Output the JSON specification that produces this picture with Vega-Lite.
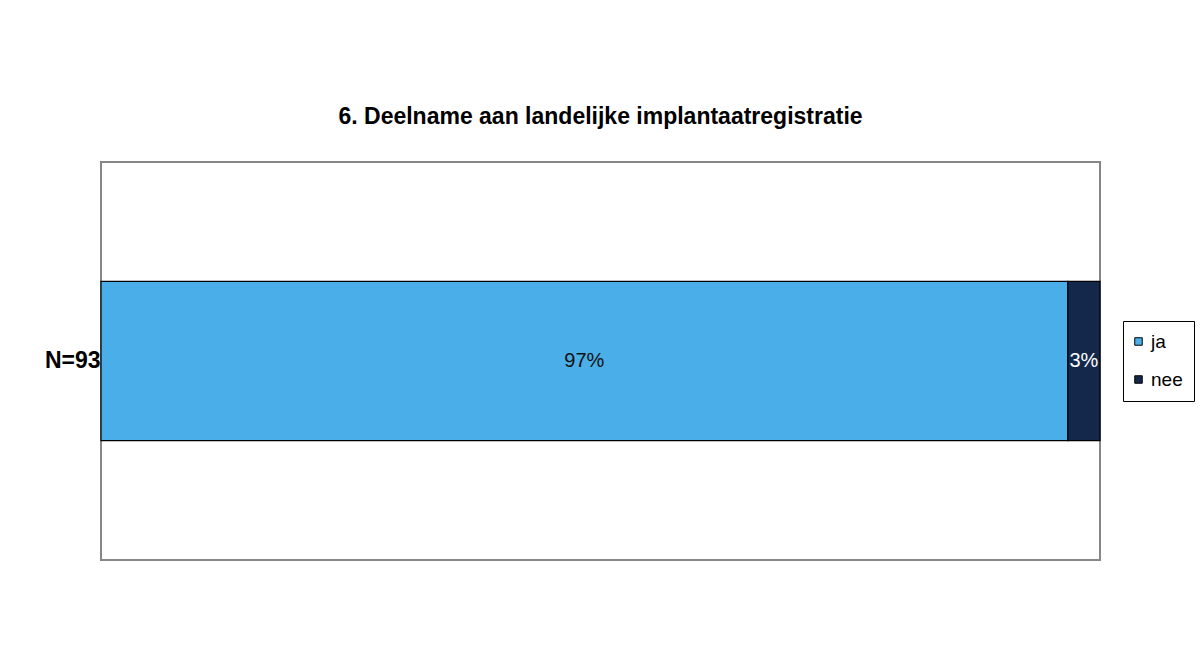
{
  "$schema": "https://vega.github.io/schema/vega-lite/v6.json",
  "autosize": {"type": "none"},
  "padding": {"left": 101, "top": 162, "right": 103, "bottom": 90},
  "width": 999,
  "height": 398,
  "background": "white",
  "title": {
    "text": "6. Deelname aan landelijke implantaatregistratie",
    "font": "Liberation Sans",
    "fontSize": 23,
    "fontWeight": "bold",
    "color": "black",
    "anchor": "middle",
    "frame": "group",
    "offset": 33
  },
  "data": {
    "values": [
      {"group": "N=93", "answer": "ja", "count": 90, "label": "97%"},
      {"group": "N=93", "answer": "nee", "count": 3, "label": "3%"}
    ]
  },
  "transform": [
    {"stack": "count", "groupby": ["group"], "offset": "normalize", "sort": [{"field": "answer", "order": "ascending"}], "as": ["x0", "x1"]},
    {"calculate": "(datum.x0 + datum.x1) / 2", "as": "xmid"}
  ],
  "encoding": {
    "y": {
      "field": "group",
      "type": "nominal",
      "scale": {"paddingInner": 0, "paddingOuter": 0.75},
      "axis": {
        "title": null,
        "domain": false,
        "ticks": false,
        "labelFont": "Liberation Sans",
        "labelFontSize": 23,
        "labelFontWeight": "bold",
        "labelColor": "black",
        "labelPadding": 1
      }
    }
  },
  "layer": [
    {
      "mark": {"type": "bar", "stroke": "black", "strokeWidth": 1.2},
      "encoding": {
        "x": {"field": "x0", "type": "quantitative", "scale": {"domain": [0, 1], "nice": false, "zero": true}, "axis": null},
        "x2": {"field": "x1"},
        "color": {
          "field": "answer",
          "type": "nominal",
          "scale": {"domain": ["ja", "nee"], "range": ["#4AAFE8", "#13284A"]},
          "legend": {
            "title": null,
            "orient": "none",
            "legendX": 1022,
            "legendY": 159,
            "symbolType": "square",
            "symbolSize": 56,
            "symbolStrokeColor": "black",
            "symbolStrokeWidth": 1,
            "symbolOpacity": 1,
            "symbolOffset": -5,
            "labelFont": "Liberation Sans",
            "labelFontSize": 19,
            "labelColor": "black",
            "labelOffset": 3,
            "rowPadding": 18,
            "padding": 11,
            "strokeColor": "black",
            "fillColor": "white"
          }
        }
      }
    },
    {
      "mark": {"type": "text", "font": "Liberation Sans", "fontSize": 20, "align": "center", "baseline": "middle"},
      "encoding": {
        "x": {"field": "xmid", "type": "quantitative", "scale": {"domain": [0, 1], "nice": false, "zero": true}, "axis": null},
        "text": {"field": "label"},
        "color": {"condition": {"test": "datum.answer === 'nee'", "value": "white"}, "value": "#111111"}
      }
    }
  ],
  "config": {
    "view": {"stroke": "#878787", "strokeWidth": 2}
  }
}
